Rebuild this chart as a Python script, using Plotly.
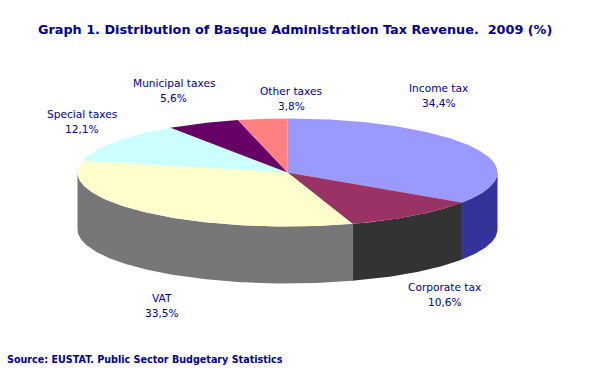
import numpy as np
import plotly.graph_objects as go

categories = ["Income tax", "Corporate tax", "VAT", "Special taxes", "Municipal taxes", "Other taxes"]
values = [34.4, 10.6, 33.5, 12.1, 5.6, 3.8]
top_colors = ["#9999FF", "#993366", "#FFFFCC", "#CCFFFF", "#660066", "#FF8080"]
side_colors = ["#333399", "#333333", "#777777", "#A0CCCC", "#330033", "#CC6666"]
label_x = [438.5, 444.5, 161.5, 82, 173.5, 291]
label_y = [95, 294, 305.5, 121.5, 90.5, 98.5]

TITLE = "Graph 1. Distribution of Basque Administration Tax Revenue.\u00a0 2009 (%)"
SOURCE = "Source: EUSTAT. Public Sector Budgetary Statistics"
INK = "#000099"
CX, CY, RX, RY, DEPTH = 287.5, 172.5, 210, 54, 57


def ex(t):
    return CX + RX * np.sin(t)


def ey(t):
    return CY - RY * np.cos(t)


fig = go.Figure()
edges = np.radians(np.concatenate([[0], np.cumsum(values)]) * 3.6)

# Visible outer wall of the pie: the front half of the ellipse only
for i in range(len(values)):
    a, b = max(edges[i], np.pi / 2), min(edges[i + 1], 3 * np.pi / 2)
    if b <= a:
        continue
    t = np.linspace(a, b, 120)
    fig.add_trace(go.Scatter(
        x=np.concatenate([ex(t), ex(t[::-1])]),
        y=np.concatenate([ey(t), ey(t[::-1]) + DEPTH]),
        mode="lines", fill="toself", fillcolor=side_colors[i],
        line=dict(width=0), hoverinfo="skip", showlegend=False))

# Top face wedges
for i in range(len(values)):
    t = np.linspace(edges[i], edges[i + 1], 160)
    fig.add_trace(go.Scatter(
        x=np.concatenate([[CX], ex(t), [CX]]),
        y=np.concatenate([[CY], ey(t), [CY]]),
        mode="lines", fill="toself", fillcolor=top_colors[i],
        line=dict(width=0), hoverinfo="skip", showlegend=False))

label_font = dict(family="DejaVu Sans", size=10.6, color=INK)
for name, v, lx, ly in zip(categories, values, label_x, label_y):
    fig.add_annotation(x=lx, y=ly - 7.5, xref="x", yref="y", showarrow=False, text=name,
                       xanchor="center", yanchor="middle", font=label_font)
    fig.add_annotation(x=lx, y=ly + 7.5, xref="x", yref="y", showarrow=False,
                       text=f"{v:.1f}%".replace(".", ","),
                       xanchor="center", yanchor="middle", font=label_font)

fig.add_annotation(x=295, y=29, xref="x", yref="y", showarrow=False, text=f"<b>{TITLE}</b>",
                   xanchor="center", yanchor="middle",
                   font=dict(family="DejaVu Sans", size=12.8, color=INK))
fig.add_annotation(x=5, y=359, xref="x", yref="y", showarrow=False, text=f"<b>{SOURCE}</b>",
                   xanchor="left", yanchor="middle",
                   font=dict(family="DejaVu Sans", size=9.6, color=INK))

fig.update_layout(
    width=590, height=375, margin=dict(l=0, r=0, t=0, b=0),
    paper_bgcolor="white", plot_bgcolor="white", showlegend=False,
    xaxis=dict(range=[0, 590], visible=False, fixedrange=True),
    yaxis=dict(range=[375, 0], visible=False, fixedrange=True),
)
fig.write_html("out.html", config={"displayModeBar": False},
               post_script="document.body.style.margin='0';document.body.style.overflow='hidden';")
